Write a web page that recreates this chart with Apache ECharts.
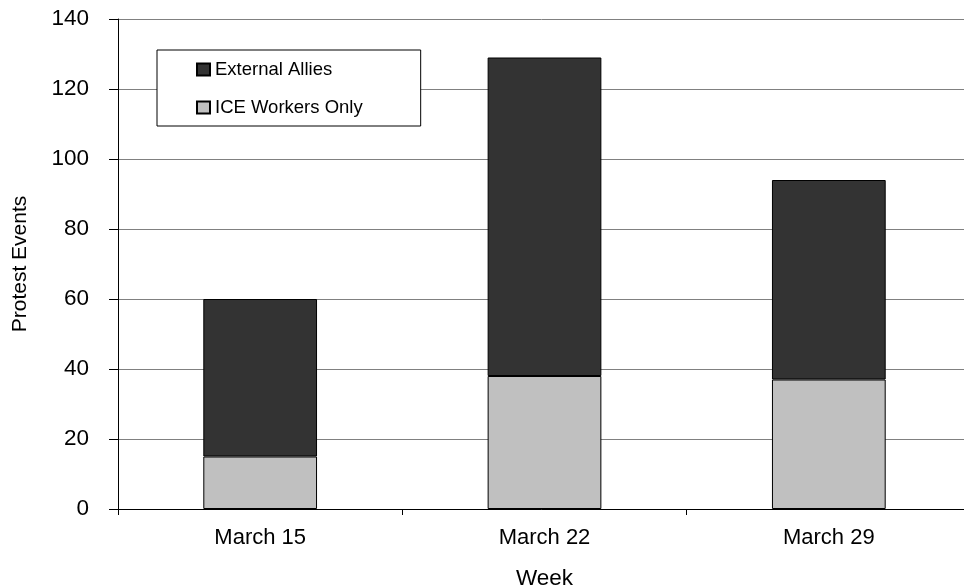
<!DOCTYPE html>
<html><head><meta charset="utf-8">
<script src="https://cdn.jsdelivr.net/npm/echarts@6/dist/echarts.min.js"></script>
<style>html,body{margin:0;padding:0;background:#fff}#c{width:964px;height:587px}</style>
</head><body><div id="c"></div>
<script>
const categories = ["March 15", "March 22", "March 29"];
const iceWorkers = [15, 38, 37];
const externalAllies = [45, 91, 57];
const yTicks = [0, 20, 40, 60, 80, 100, 120, 140];

const chart = echarts.init(document.getElementById('c'), null, {renderer: 'canvas'});
const font = 'Liberation Sans, Arial, sans-serif';
chart.setOption({
  backgroundColor: '#fff',
  animation: false,
  grid: {left: 118, top: 19, width: 853, height: 490, containLabel: false, outerBoundsMode: 'none'},
  legend: {
    left: 157, top: 50, orient: 'vertical',
    data: ['External Allies', 'ICE Workers Only'],
    backgroundColor: '#fff', borderColor: '#000', borderWidth: 1,
    padding: [10, 58, 9, 39], itemGap: 19, itemWidth: 13, itemHeight: 12,
    icon: 'rect',
    textStyle: {fontFamily: font, fontSize: 18.5, color: '#000', padding: [0,0,0,0]}
  },
  xAxis: {
    type: 'category', data: categories, boundaryGap: true,
    name: 'Week', nameLocation: 'middle', nameGap: 58,
    nameTextStyle: {fontFamily: font, fontSize: 22.5, color: '#000'},
    axisLine: {lineStyle: {color: '#000', width: 1}},
    axisTick: {show: true, length: 6, lineStyle: {color: '#000'}},
    axisLabel: {fontFamily: font, fontSize: 22, color: '#000', margin: 18}
  },
  yAxis: {
    type: 'value', min: 0, max: 140, interval: 20,
    name: 'Protest Events', nameLocation: 'middle', nameGap: 87,
    nameTextStyle: {fontFamily: font, fontSize: 21, color: '#000'},
    axisLine: {show: true, lineStyle: {color: '#000', width: 1}},
    axisTick: {show: true, length: 9, lineStyle: {color: '#000'}},
    axisLabel: {fontFamily: font, fontSize: 22.5, color: '#000', margin: 29,
      formatter: v => yTicks.includes(v) ? String(v) : ''},
    splitLine: {show: true, lineStyle: {color: '#808080', width: 1}}
  },
  series: [
    {name: 'ICE Workers Only', type: 'bar', stack: 's', data: iceWorkers, barWidth: '40%',
     itemStyle: {color: '#C0C0C0', borderColor: '#000', borderWidth: 1}},
    {name: 'External Allies', type: 'bar', stack: 's', data: externalAllies, barWidth: '40%',
     itemStyle: {color: '#333333', borderColor: '#000', borderWidth: 1}}
  ]
});
</script></body></html>
